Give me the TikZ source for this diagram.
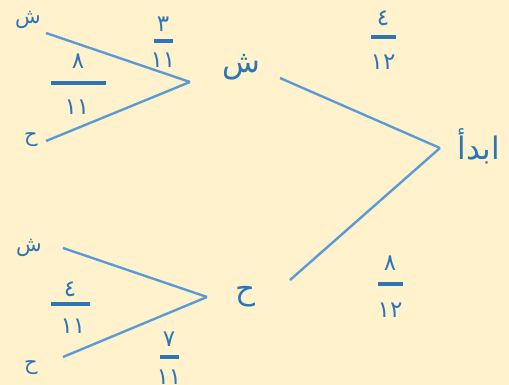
\documentclass[tikz,border=0pt]{standalone}
\usepackage{fontspec}
\newfontfamily\arabicfont[Script=Arabic]{DejaVu Sans}
\TeXXeTstate=1
\usepackage{tikz}
\usepackage{xcolor}
\definecolor{paper}{HTML}{FFF2CC}
\definecolor{branch}{HTML}{5B9BD5}
\definecolor{ink}{HTML}{2E75B6}

\begin{document}
\begin{tikzpicture}[
  x=1pt, y=-1pt,
  big/.style={text=ink, font=\arabicfont\fontsize{31}{31}\selectfont, inner sep=0pt},
  leaf/.style={text=ink, font=\arabicfont\fontsize{21}{21}\selectfont, inner sep=0pt},
  digit/.style={text=ink, font=\arabicfont\fontsize{23}{23}\selectfont, inner sep=0pt},
  bar/.style={draw=ink, line width=3.2pt},
  branchline/.style={draw=branch, line width=2.4pt},
]
  \fill[paper] (0,0) rectangle (509,385);
  \useasboundingbox (0,0) rectangle (509,385);

  % branch points
  \coordinate (start) at (440,148);
  \coordinate (s)     at (280,78);
  \coordinate (h)     at (290,280);
  \coordinate (s0)    at (190,82);
  \coordinate (ss)    at (46,33);
  \coordinate (sh)    at (46,141);
  \coordinate (h0)    at (207,297);
  \coordinate (hs)    at (63,248);
  \coordinate (hh)    at (63,357);

  % labels
  \node[big]  (startlbl) at (479,146) {\arabicfont\beginR ابدأ\endR};
  \node[big]  (slbl)     at (241,67)  {ش};
  \node[big]  (hlbl)     at (246,297) {ح};
  \node[leaf] (sslbl)    at (28,20)   {ش};
  \node[leaf] (shlbl)    at (31,140)  {ح};
  \node[leaf] (hslbl)    at (29,248)  {ش};
  \node[leaf] (hhlbl)    at (31,368)  {ح};

  \draw[branchline] (start) -- (s);
  \draw[branchline] (start) -- (h);
  \draw[branchline] (s0) -- (ss);
  \draw[branchline] (s0) -- (sh);
  \draw[branchline] (h0) -- (hs);
  \draw[branchline] (h0) -- (hh);

  % probabilities
  \node[digit] (p1n) at (383,18)  {٤};
  \draw[bar] (371,37) -- (396,37);
  \node[digit] (p1d) at (383,62)  {١٢};

  \node[digit] (p2n) at (390,263) {٨};
  \draw[bar] (378,284) -- (403,284);
  \node[digit] (p2d) at (390,310) {١٢};

  \node[digit] (q1n) at (163,24)  {٣};
  \draw[bar] (154,41) -- (173,41);
  \node[digit] (q1d) at (163,60)  {١١};

  \node[digit] (q2n) at (78,61)   {٨};
  \draw[bar] (51,83) -- (106,83);
  \node[digit] (q2d) at (77,107)  {١١};

  \node[digit] (q3n) at (70,289)  {٤};
  \draw[bar] (51,304) -- (90,304);
  \node[digit] (q3d) at (73,326)  {١١};

  \node[digit] (q4n) at (169,339) {٧};
  \draw[bar] (160,357) -- (179,357);
  \node[digit] (q4d) at (169,377) {١١};
\end{tikzpicture}
\end{document}
